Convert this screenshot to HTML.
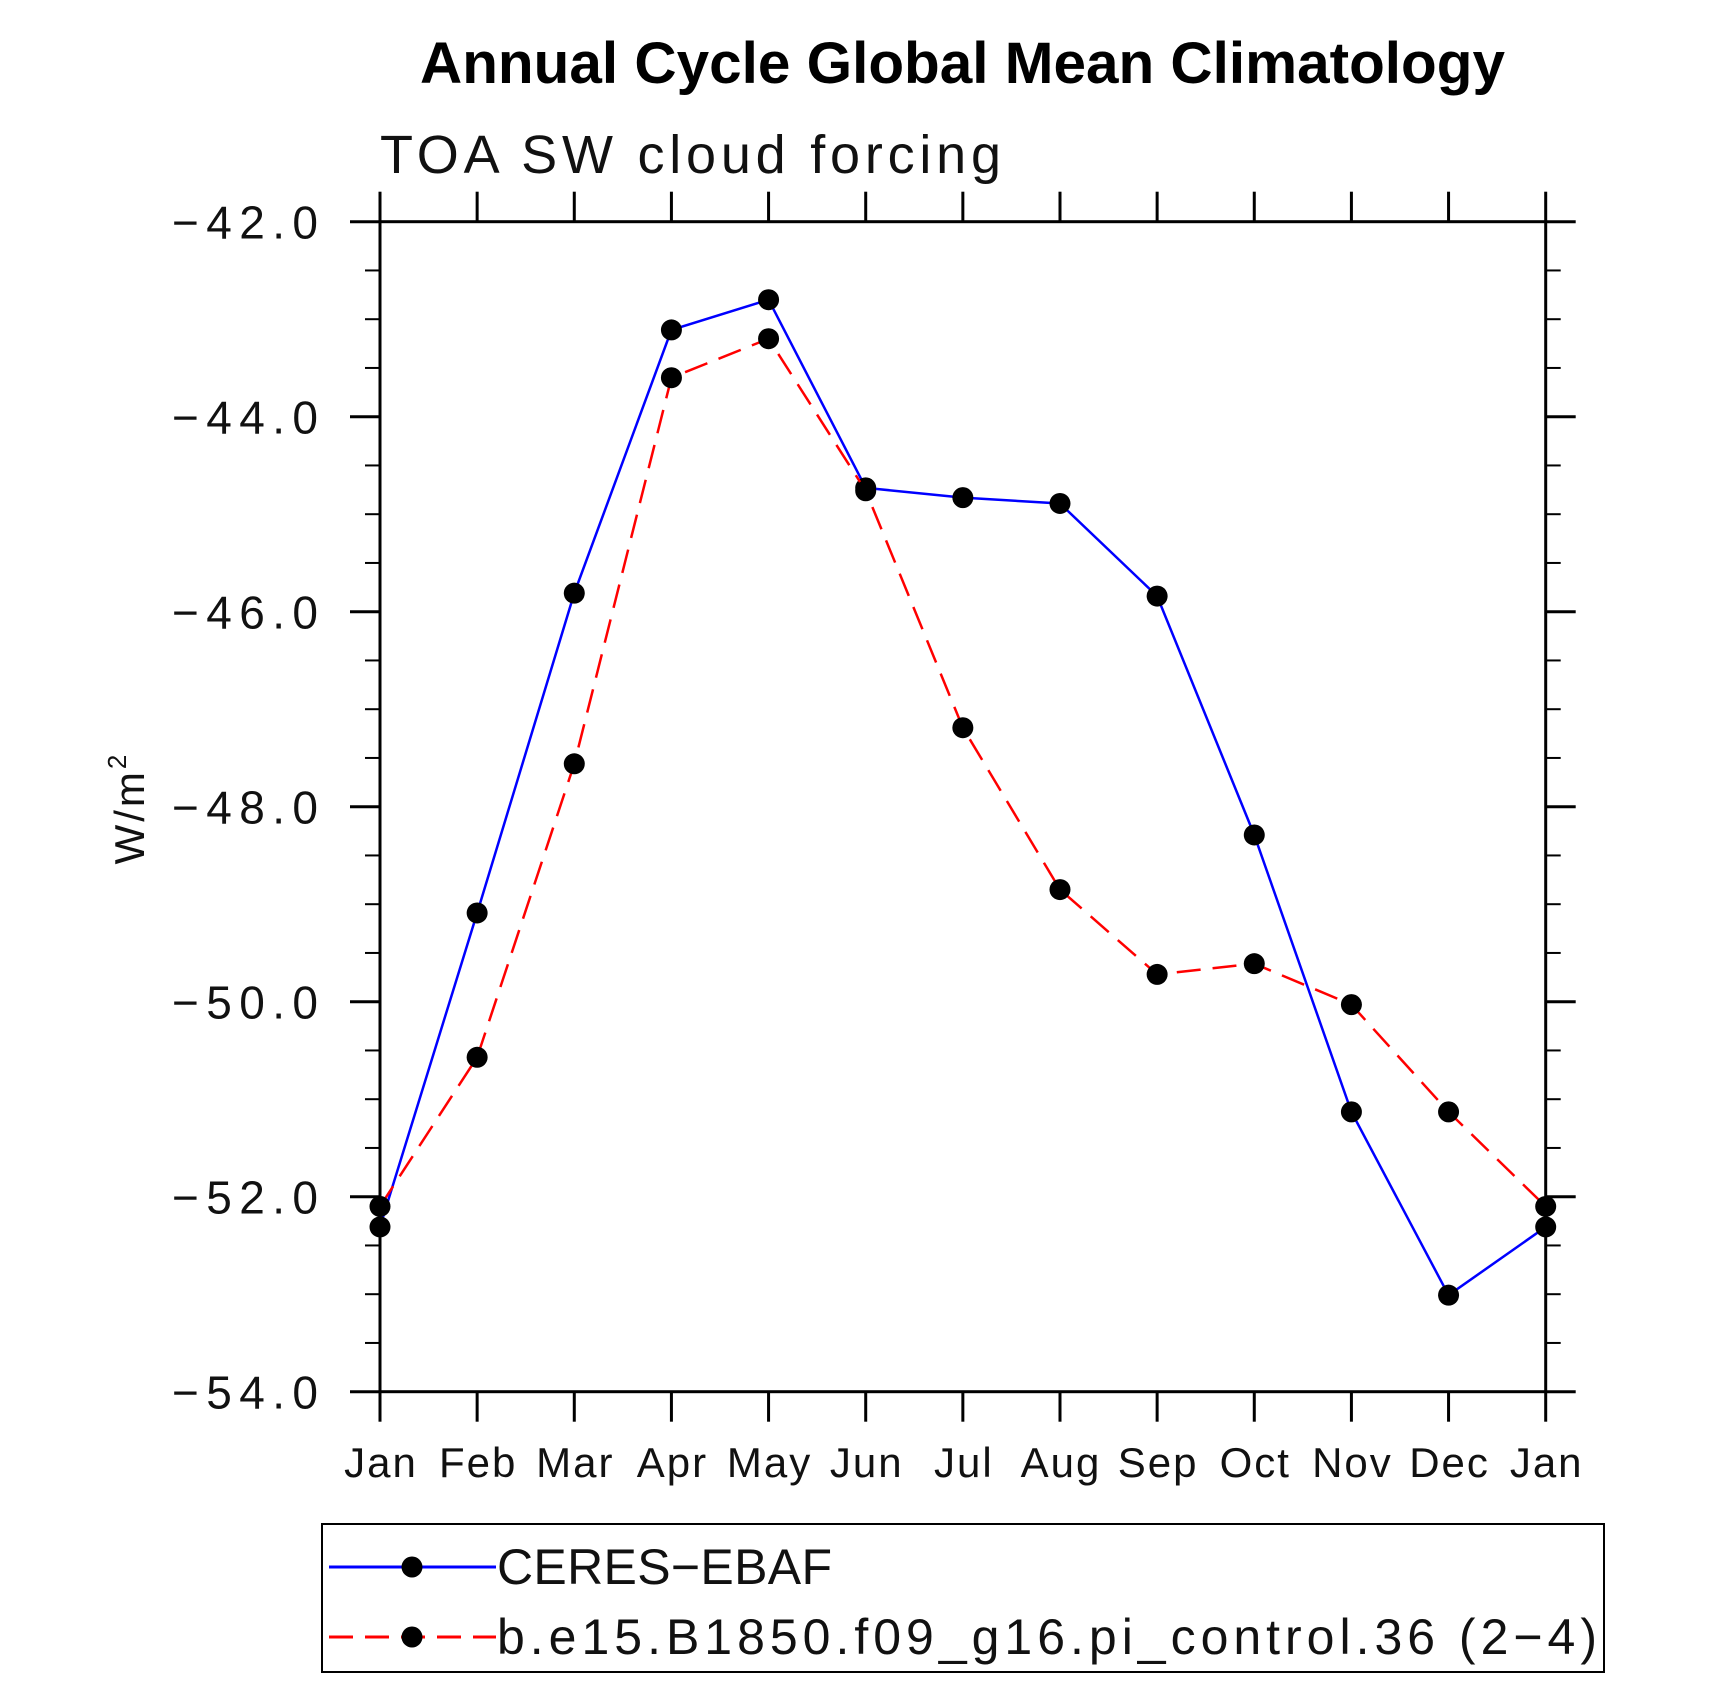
<!DOCTYPE html>
<html><head><meta charset="utf-8"><style>
html,body{margin:0;padding:0;background:#fff;}
svg{display:block;}
text{font-family:"Liberation Sans",sans-serif;fill:#111;}
</style></head><body>
<svg id="chart" width="1710" height="1686" viewBox="0 0 1710 1686" xmlns="http://www.w3.org/2000/svg">
<text x="420" y="83" font-size="58" font-weight="bold" textLength="1085" lengthAdjust="spacingAndGlyphs" style="fill:#000">Annual Cycle Global Mean Climatology</text>
<text x="380" y="173" font-size="54" textLength="621" lengthAdjust="spacing">TOA SW cloud forcing</text>
<text transform="translate(144,808) rotate(-90)" text-anchor="middle" font-size="42" letter-spacing="3">W/m<tspan font-size="26" dy="-18">2</tspan></text>
<g id="grid"></g>
<g id="series"></g>
<g>
<rect x="322" y="1524" width="1282" height="148" fill="none" stroke="#000" stroke-width="2"/>
<line x1="329" y1="1567" x2="496" y2="1567" stroke="#0000ff" stroke-width="3"/>
<circle cx="412" cy="1567" r="10.5" fill="#000"/>
<text x="497" y="1584" font-size="50" textLength="335" lengthAdjust="spacing">CERES−EBAF</text>
<line x1="329" y1="1637" x2="496" y2="1637" stroke="#ff0000" stroke-width="3" stroke-dasharray="24,12"/>
<circle cx="412" cy="1637" r="10.5" fill="#000"/>
<text x="497" y="1654" font-size="50" textLength="1100" lengthAdjust="spacing">b.e15.B1850.f09_g16.pi_control.36 (2−4)</text>
</g>
</svg>
<script>
const months = ["Jan","Feb","Mar","Apr","May","Jun","Jul","Aug","Sep","Oct","Nov","Dec","Jan"];
const ceresValues = [-52.31,-49.09,-45.81,-43.11,-42.80,-44.73,-44.83,-44.89,-45.84,-48.29,-51.13,-53.01,-52.31];
const modelValues = [-52.10,-50.57,-47.56,-43.60,-43.20,-44.76,-47.19,-48.85,-49.72,-49.61,-50.03,-51.13,-52.10];
const yTickValues = [-42,-44,-46,-48,-50,-52,-54];
const yTickLabels = ["−42.0","−44.0","−46.0","−48.0","−50.0","−52.0","−54.0"];

const L=380, R=1545.7, T=221.7, B=1391.7, yMax=-42, yMin=-54;
const NS="http://www.w3.org/2000/svg";
function xs(i){return L+(R-L)*i/(months.length-1);}
function ys(v){return T+(yMax-v)/(yMax-yMin)*(B-T);}
function mk(tag,attrs,parent){const e=document.createElementNS(NS,tag);for(const k in attrs)e.setAttribute(k,attrs[k]);parent.appendChild(e);return e;}
const g=document.getElementById('grid');
let fr=mk('rect',{x:L,y:T,width:R-L,height:B-T,fill:'none',stroke:'#000','stroke-width':3},g);


for(let v=yMax;v>=yMin-0.001;v-=0.5){
  const y=ys(v); const major=Math.abs(v-Math.round(v))<0.01 && Math.round(v)%2===0;
  const len=major?30:15, w=major?3:2;
  let a=mk('line',{x1:L-len,y1:y,x2:L,y2:y,stroke:'#000','stroke-width':w},g);
  
  
  let b=mk('line',{x1:R,y1:y,x2:R+len,y2:y,stroke:'#000','stroke-width':w},g);
  
  
}
yTickValues.forEach((v,i)=>{
  let t=mk('text',{x:318,y:ys(v)+17,'text-anchor':'end','font-size':46,textLength:146,lengthAdjust:'spacing'},g);
  t.textContent=yTickLabels[i];
  
  
});
months.forEach((m,i)=>{
  const x=xs(i);
  let a=mk('line',{x1:x,y1:T-30,x2:x,y2:T,stroke:'#000','stroke-width':3},g);
  
  
  let b=mk('line',{x1:x,y1:B,x2:x,y2:B+30,stroke:'#000','stroke-width':3},g);
  
  
  let t=mk('text',{x:x+1,y:1477,'text-anchor':'middle','font-size':42,'letter-spacing':2},g);
  t.textContent=m;
  
  
});
const s=document.getElementById('series');
function draw(vals,color,dash,name){
  const pts=vals.map((v,i)=>xs(i)+','+ys(v)).join(' ');
  const attrs={points:pts,fill:'none',stroke:color,'stroke-width':2.5};
  if(dash)attrs['stroke-dasharray']=dash;
  let p=mk('polyline',attrs,s);
  
  
  vals.forEach((v,i)=>{
    let c=mk('circle',{cx:xs(i),cy:ys(v),r:10.5,fill:'#000'},s);
    
    
  });
}
draw(ceresValues,'#0000ff',null,'ceres');
draw(modelValues,'#ff0000','24,12','model');
</script>
</body></html>
